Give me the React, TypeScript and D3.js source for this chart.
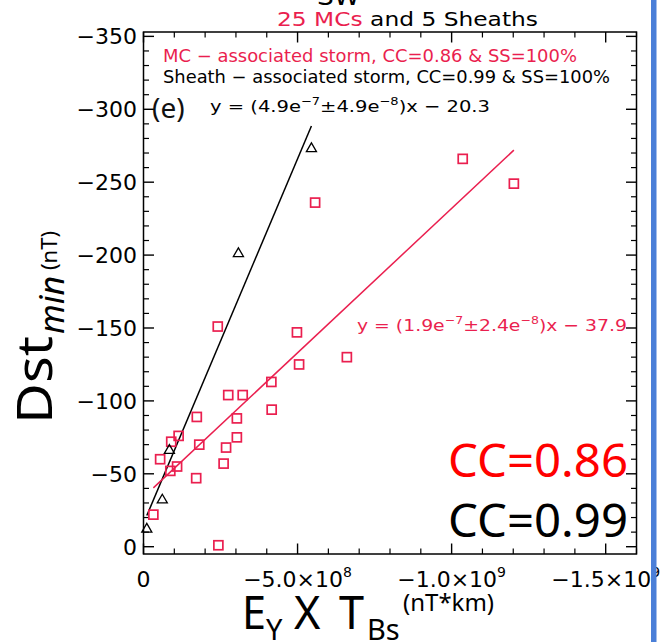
import React from "react";
import * as d3 from "d3";

// MC-associated storms: E_Y x T_Bs (nT*km) and Dst_min (nT)
const mcEyTBs = [
  -2.41e8, -4.98e8, -6.6e8, -5.05e8, -4.15e8, -2.75e8, -3.22e8, -4.16e8, -1.73e8,
  -3.03e8, -1.14e8, -0.9e8, -1.81e8, -3.03e8, -2.68e8, -0.54e8, -1.09e8, -0.87e8,
  -2.6e8, -1.71e8, -0.32e8, -2.43e8, -5.57e8, -1.036e9, -1.202e9,
];
const mcDst = [
  -151, -147, -130, -125, -113, -104, -104, -94, -89, -88, -76, -72, -70, -75, -68,
  -60, -55, -52, -57, -47, -22, -1, -236, -266, -249,
];

// Sheath-associated storms
const shEyTBs = [-5.45e8, -3.08e8, -0.84e8, -0.61e8, -0.107e8];
const shDst = [-273, -201, -66, -32, -12];

// fit lines as drawn (slope, intercept)
const mcFit = [1.98e-7, -34];
const shFit = [5.0e-7, -16];

const yTicks = [0, -50, -100, -150, -200, -250, -300, -350];
const yTickLabels = ["0", "−50", "−100", "−150", "−200", "−250", "−300", "−350"];
const xTicks = [0, -5e8, -1e9, -1.5e9];
const xTickBase = ["0", "−5.0×10", "−1.0×10", "−1.5×10"];
const xTickExp = ["", "8", "9", "9"];

const RED = "#ea1f4f";
const IDL_FONT = "DejaVu Sans";
const PPT_FONT = "Noto Sans";

const App = () => {
  const width = 661;
  const height = 642;

  const x = d3.scaleLinear().domain([0, -1.6e9]).range([143.5, 636.5]);
  const y = d3.scaleLinear().domain([5, -353]).range([554, 32]);

  const [x0, x1] = x.range();
  const [y0, y1] = y.range();

  const majorLen = 10.5;
  const minorLen = 5.5;

  const yMinor = d3.range(0, -351, -10).filter((v) => v % 50 !== 0);
  const xMinor = d3.range(0, -1.6e9 - 1, -1e8).filter((v) => Math.round(v / 1e8) % 5 !== 0);

  const fitLine = (xs, fit) => {
    const ext = d3.extent(xs);
    const pts = ext.map((v) => [v, fit[0] * v + fit[1]]);
    return d3
      .line()
      .x((d) => x(d[0]))
      .y((d) => y(d[1]))(pts);
  };

  const tri = d3.symbol().type(d3.symbolTriangle).size(44)();

  return (
    <svg
      width={width}
      height={height}
      style={{ position: "absolute", left: 0, top: 0, background: "#fff" }}
    >
      <rect width={width} height={height} fill="#fff" />

      {/* cut-off title */}
      <text x={317} y={5} fontFamily={IDL_FONT} fontSize={24} textLength={43} lengthAdjust="spacingAndGlyphs">
        SW
      </text>
      <text x={277} y={26} fontFamily={IDL_FONT} fontSize={20} textLength={261} lengthAdjust="spacingAndGlyphs">
        <tspan fill={RED}>25 MCs</tspan>
        <tspan fill="#000"> and 5 Sheaths</tspan>
      </text>

      {/* frame */}
      <rect x={x0} y={y1} width={x1 - x0} height={y0 - y1} fill="none" stroke="#000" strokeWidth={1.5} />

      {/* y ticks left & right */}
      {yTicks.map((t) => (
        <g key={"ym" + t}>
          <line x1={x0} x2={x0 + majorLen} y1={y(t)} y2={y(t)} stroke="#000" strokeWidth={1.4} />
          <line x1={x1} x2={x1 - majorLen} y1={y(t)} y2={y(t)} stroke="#000" strokeWidth={1.4} />
        </g>
      ))}
      {yMinor.map((t) => (
        <g key={"yn" + t}>
          <line x1={x0} x2={x0 + minorLen} y1={y(t)} y2={y(t)} stroke="#000" strokeWidth={1.2} />
          <line x1={x1} x2={x1 - minorLen} y1={y(t)} y2={y(t)} stroke="#000" strokeWidth={1.2} />
        </g>
      ))}
      {yTicks.map((t, i) => (
        <text key={"yl" + t} x={137} y={y(t) + 8} textAnchor="end" fontFamily={IDL_FONT} fontSize={22}>
          {yTickLabels[i]}
        </text>
      ))}

      {/* x ticks bottom & top */}
      {xTicks.map((t) => (
        <g key={"xm" + t}>
          <line x1={x(t)} x2={x(t)} y1={y0} y2={y0 - majorLen} stroke="#000" strokeWidth={1.4} />
          <line x1={x(t)} x2={x(t)} y1={y1} y2={y1 + majorLen} stroke="#000" strokeWidth={1.4} />
        </g>
      ))}
      {xMinor.map((t) => (
        <g key={"xn" + t}>
          <line x1={x(t)} x2={x(t)} y1={y0} y2={y0 - minorLen} stroke="#000" strokeWidth={1.2} />
          <line x1={x(t)} x2={x(t)} y1={y1} y2={y1 + minorLen} stroke="#000" strokeWidth={1.2} />
        </g>
      ))}
      {xTicks.map((t, i) => (
        <text key={"xl" + t} x={x(t)} y={587} textAnchor="middle" fontFamily={IDL_FONT} fontSize={22}>
          {xTickBase[i]}
          {xTickExp[i] && (
            <tspan dy={-10} fontSize={14}>
              {xTickExp[i]}
            </tspan>
          )}
        </text>
      ))}

      {/* fit lines */}
      <path d={fitLine(shEyTBs, shFit)} fill="none" stroke="#000" strokeWidth={1.5} />
      <path d={fitLine(mcEyTBs, mcFit)} fill="none" stroke={RED} strokeWidth={1.5} />

      {/* points */}
      {mcEyTBs.map((v, i) => (
        <rect
          key={"mc" + i}
          x={x(v) - 4.5}
          y={y(mcDst[i]) - 4.5}
          width={9}
          height={9}
          fill="none"
          stroke={RED}
          strokeWidth={1.7}
        />
      ))}
      {shEyTBs.map((v, i) => (
        <path
          key={"sh" + i}
          d={tri}
          transform={`translate(${x(v)},${y(shDst[i])})`}
          fill="none"
          stroke="#000"
          strokeWidth={1.3}
        />
      ))}

      {/* legend */}
      <text x={163} y={62} fontFamily={IDL_FONT} fontSize={17.5} fill={RED} textLength={414} lengthAdjust="spacingAndGlyphs">
        MC − associated storm, CC=0.86 &amp; SS=100%
      </text>
      <text x={163} y={83} fontFamily={IDL_FONT} fontSize={17.5} fill="#000" textLength={447} lengthAdjust="spacingAndGlyphs">
        Sheath − associated storm, CC=0.99 &amp; SS=100%
      </text>

      {/* equations */}
      <text x={210} y={112} fontFamily={IDL_FONT} fontSize={16.5} fill="#000" textLength={280} lengthAdjust="spacingAndGlyphs">
        y = (4.9e
        <tspan dy={-7} fontSize={11}>−7</tspan>
        <tspan dy={7}>±4.9e</tspan>
        <tspan dy={-7} fontSize={11}>−8</tspan>
        <tspan dy={7}>)x − 20.3</tspan>
      </text>
      <text x={357} y={331} fontFamily={IDL_FONT} fontSize={16.5} fill={RED} textLength={270} lengthAdjust="spacingAndGlyphs">
        y = (1.9e
        <tspan dy={-7} fontSize={11}>−7</tspan>
        <tspan dy={7}>±2.4e</tspan>
        <tspan dy={-7} fontSize={11}>−8</tspan>
        <tspan dy={7}>)x − 37.9</tspan>
      </text>

      {/* panel tag */}
      <text x={152} y={118} fontFamily={PPT_FONT} fontSize={28} fill="#111">
        (e)
      </text>

      {/* CC annotations */}
      <text x={628} y={477} textAnchor="end" fontFamily={PPT_FONT} fontSize={46} fill="#ff0000" textLength={180} lengthAdjust="spacingAndGlyphs">
        CC=0.86
      </text>
      <text x={628} y={537} textAnchor="end" fontFamily={PPT_FONT} fontSize={46} fill="#000" textLength={180} lengthAdjust="spacingAndGlyphs">
        CC=0.99
      </text>

      {/* y axis title */}
      <text transform="rotate(-90)" fontFamily={PPT_FONT} fill="#000">
        <tspan x={-424} y={52} fontSize={50} textLength={88} lengthAdjust="spacingAndGlyphs">
          Dst
        </tspan>
        <tspan x={-334} y={64} fontSize={34} fontStyle="italic">
          min
        </tspan>
        <tspan x={-270} y={57} fontSize={22}>
          (nT)
        </tspan>
      </text>

      {/* x axis title */}
      <g fontFamily={PPT_FONT} fill="#000">
        <text x={242} y={629} fontSize={45} textLength={24} lengthAdjust="spacingAndGlyphs">E</text>
        <text x={266} y={640} fontSize={29}>Y</text>
        <text x={294} y={629} fontSize={45}>X</text>
        <text x={339} y={629} fontSize={45}>T</text>
        <text x={367} y={640} fontSize={29}>Bs</text>
        <text x={403} y={611} fontSize={24}>(nT*km)</text>
      </g>

      {/* blue frame edge */}
      <rect x={651} y={0} width={5.5} height={height} fill="#4a7fd8" />
    </svg>
  );
};

export default App;
